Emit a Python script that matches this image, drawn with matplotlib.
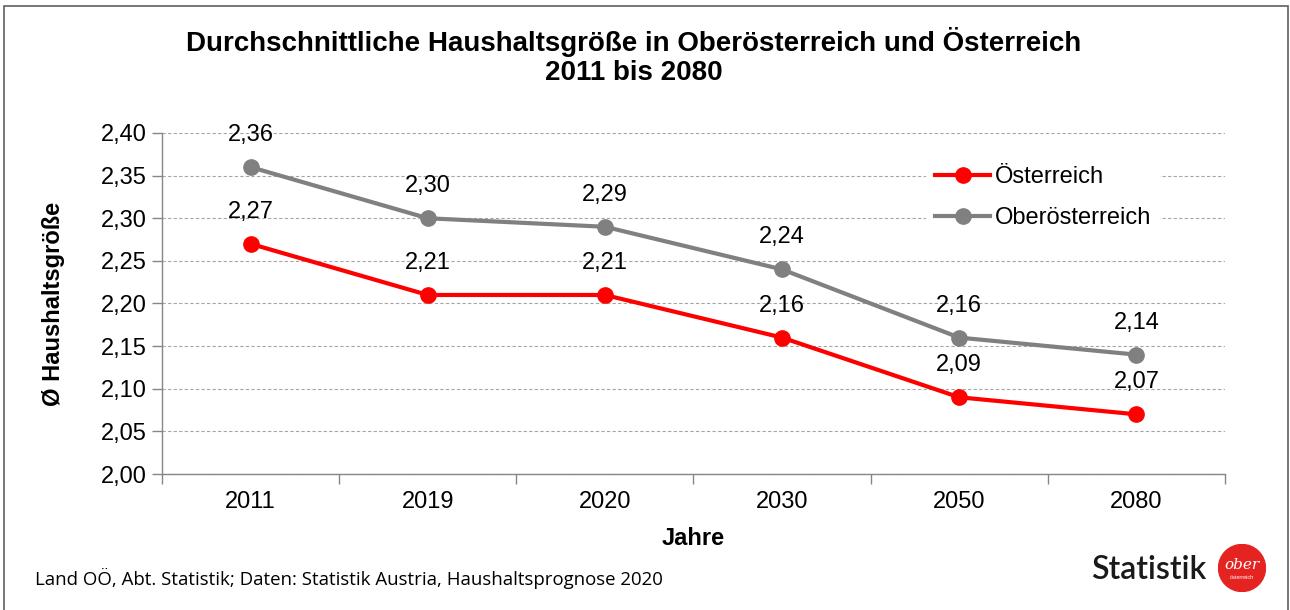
import matplotlib
matplotlib.use("Agg")
import matplotlib.pyplot as plt
from matplotlib.patches import Rectangle, Circle
from matplotlib.ticker import FixedLocator, NullFormatter

years = ["2011", "2019", "2020", "2030", "2050", "2080"]
oesterreich = [2.27, 2.21, 2.21, 2.16, 2.09, 2.07]
oberoesterreich = [2.36, 2.30, 2.29, 2.24, 2.16, 2.14]
yticks = [2.00, 2.05, 2.10, 2.15, 2.20, 2.25, 2.30, 2.35, 2.40]

W, H = 1290, 610
fig = plt.figure(figsize=(W / 100, H / 100), dpi=100)
plt.rcParams['font.family'] = ['Liberation Sans', 'DejaVu Sans']

# frame
fig.patches.append(Rectangle((4 / W, -0.01), (1288 - 4) / W, (H - 6) / H + 0.01,
                             transform=fig.transFigure, fill=False,
                             edgecolor='#606060', linewidth=1.2))

ax = fig.add_axes([162 / W, (H - 474) / H, (1225 - 162) / W, (474 - 133) / H])
x = list(range(len(years)))
red = '#FF0000'
gray = '#808080'
ax.plot(x, oesterreich, color=red, lw=3, marker='o', ms=11, label='Österreich', zorder=3)
ax.plot(x, oberoesterreich, color=gray, lw=3, marker='o', ms=11, label='Oberösterreich', zorder=3)

for series in (oesterreich, oberoesterreich):
    for xi, v in zip(x, series):
        ax.annotate(f"{v:.2f}".replace('.', ','), (xi, v), xytext=(0, 23), textcoords='offset points',
                    ha='center', va='center', fontsize=17)

ax.set_xlim(-0.5, len(years) - 0.5)
ax.set_ylim(2.0, 2.4)
ax.set_yticks(yticks)
ax.set_yticklabels([f"{t:.2f}".replace('.', ',') for t in yticks], fontsize=17)
ax.set_xticks(x)
ax.set_xticklabels(years, fontsize=17)
ax.tick_params(axis='x', which='major', length=0, pad=12)
ax.xaxis.set_minor_locator(FixedLocator([i - 0.5 for i in range(len(years) + 1)]))
ax.xaxis.set_minor_formatter(NullFormatter())
ax.tick_params(axis='x', which='minor', length=7, color='#868686', width=1, direction='out')
ax.tick_params(axis='y', length=7, color='#868686', width=1, direction='out', pad=4)
for s in ['top', 'right']:
    ax.spines[s].set_visible(False)
for s in ['left', 'bottom']:
    ax.spines[s].set_color('#868686')
    ax.spines[s].set_linewidth(1)
ax.grid(axis='y', color='#A6A6A6', linestyle=(0, (3, 2)), linewidth=0.8)
ax.set_axisbelow(True)

ax.set_xlabel("Jahre", fontsize=17, fontweight='bold', labelpad=10)
ax.set_ylabel("Ø Haushaltsgröße", fontsize=17, fontweight='bold', labelpad=26)

leg = ax.legend(loc='upper left', bbox_to_anchor=((926 - 162) / (1225 - 162), 1 - (157 - 133) / (474 - 133)),
                frameon=True, fancybox=False, framealpha=1, facecolor='white', edgecolor='none',
                fontsize=17, handlelength=2.3, handletextpad=0.2,
                labelspacing=0.8, borderaxespad=0)

fig.text(634 / W, 1 - 42 / H, "Durchschnittliche Haushaltsgröße in Oberösterreich und Österreich",
         ha='center', va='center', fontsize=20, fontweight='bold')
fig.text(634 / W, 1 - 73 / H, "2011 bis 2080", ha='center', va='center', fontsize=20, fontweight='bold')

fig.text(35 / W, 1 - 578 / H, "Land OÖ, Abt. Statistik; Daten: Statistik Austria, Haushaltsprognose 2020",
         ha='left', va='center', fontsize=13.4,
         family=['Open Sans', 'DejaVu Sans'])

fig.text(1206 / W, 1 - 570 / H, "Statistik", ha='right', va='center', fontsize=23,
         color='#1a1a1a', family=['Lato', 'DejaVu Sans'], fontweight='semibold')
logo_ax = fig.add_axes([(1242 - 24) / W, (H - 568 - 24) / H, 48 / W, 48 / H])
logo_ax.set_xlim(-1, 1)
logo_ax.set_ylim(-1, 1)
logo_ax.set_aspect('equal')
logo_ax.axis('off')
logo_ax.add_patch(Circle((0, 0), 0.98, color='#E52421'))
logo_ax.text(0, 0.12, "ober", color='white', ha='center', va='center', fontsize=11, style='italic',
             family=['DejaVu Serif'])
logo_ax.text(0, -0.4, "österreich", color='white', ha='center', va='center', fontsize=4)

fig.savefig("out.png", dpi=100)
